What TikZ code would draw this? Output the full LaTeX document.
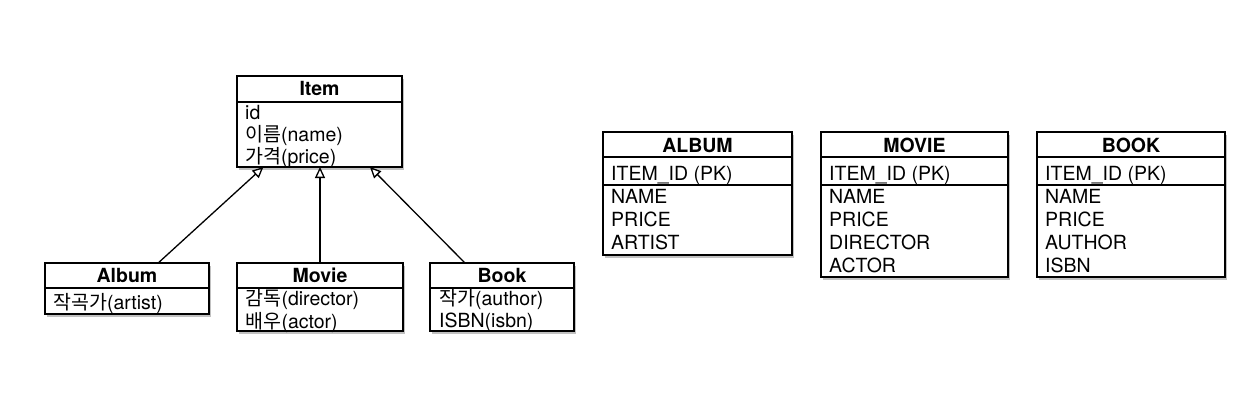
\documentclass[tikz,border=0pt]{standalone}
\usepackage{fontspec}
\setmainfont{TeX Gyre Heros}
\newfontfamily\kr{Noto Sans CJK KR}
\usetikzlibrary{arrows.meta,shadows,calc}
\begin{document}
\fontsize{19.5}{23}\selectfont
\begin{tikzpicture}[x=1pt,y=-1pt,
  box/.style={draw, line width=1.5pt, fill=white, inner sep=0pt, outer sep=0pt, anchor=north west,
    drop shadow={shadow xshift=2pt, shadow yshift=-2.5pt, opacity=0.35, fill=black!70}},
  hd/.style={font=\bfseries, inner sep=0pt, anchor=base},
  fl/.style={inner sep=0pt, anchor=base west},
  sepline/.style={line width=1.5pt},
  inh/.style={line width=1.3pt, -{Triangle[open,length=11pt,width=10pt,line width=1.3pt]}}]
\useasboundingbox (0,0) rectangle (1255,405);

% ---------- UML classes ----------
\node[box, minimum width=165pt, minimum height=91pt] (item) at (237,76) {};
\draw[sepline] ([yshift=-26pt]item.north west) -- ([yshift=-26pt]item.north east);
\node[hd] (itemh) at (319.5,95) {Item};
\node[fl] (itemf1) at (245,119.5) {id};
\node[fl] (itemf2) at (245,141.5) {{\kr 이름}(name)};
\node[fl] (itemf3) at (245,163) {{\kr 가격}(price)};

\node[box, minimum width=164pt, minimum height=51pt] (album) at (45,263) {};
\draw[sepline] ([yshift=-25pt]album.north west) -- ([yshift=-25pt]album.north east);
\node[hd] (albumh) at (127,282) {Album};
\node[fl] (albumf1) at (53,309.5) {{\kr 작곡가}(artist)};

\node[box, minimum width=166pt, minimum height=68pt] (movie) at (237,263) {};
\draw[sepline] ([yshift=-25pt]movie.north west) -- ([yshift=-25pt]movie.north east);
\node[hd] (movieh) at (320,282) {Movie};
\node[fl] (movief1) at (245.5,305) {{\kr 감독}(director)};
\node[fl] (movief2) at (245.5,328) {{\kr 배우}(actor)};

\node[box, minimum width=144pt, minimum height=68pt] (book) at (430,263) {};
\draw[sepline] ([yshift=-25pt]book.north west) -- ([yshift=-25pt]book.north east);
\node[hd] (bookh) at (502,282) {Book};
\node[fl] (bookf1) at (439,305) {{\kr 작가}(author)};
\node[fl] (bookf2) at (439,327.5) {ISBN(isbn)};

% inheritance connectors
\draw[inh] ($(album.north west)!0.69!(album.north east)$) -- ($(item.south west)!0.16!(item.south east)$);
\draw[inh] (movie.north) -- (movie.north |- item.south);
\draw[inh] ($(book.north west)!0.243!(book.north east)$) -- ($(item.south west)!0.806!(item.south east)$);

% ---------- tables ----------
\node[box, minimum width=189pt, minimum height=123pt] (talbum) at (603,132) {};
\draw[sepline] ([yshift=-25pt]talbum.north west) -- ([yshift=-25pt]talbum.north east);
\draw[sepline] ([yshift=-53pt]talbum.north west) -- ([yshift=-53pt]talbum.north east);
\node[hd] (talbumh) at (697.5,152) {ALBUM};
\node[fl] (talbumk) at (611,180) {ITEM\_ID (PK)};
\node[fl] (talbumf1) at (611,203) {NAME};
\node[fl] (talbumf2) at (611,226) {PRICE};
\node[fl] (talbumf3) at (611,249) {ARTIST};

\node[box, minimum width=187pt, minimum height=145pt] (tmovie) at (821,132) {};
\draw[sepline] ([yshift=-25pt]tmovie.north west) -- ([yshift=-25pt]tmovie.north east);
\draw[sepline] ([yshift=-53pt]tmovie.north west) -- ([yshift=-53pt]tmovie.north east);
\node[hd] (tmovieh) at (914.5,152) {MOVIE};
\node[fl] (tmoviek) at (829,180) {ITEM\_ID (PK)};
\node[fl] (tmovief1) at (829,203) {NAME};
\node[fl] (tmovief2) at (829,226) {PRICE};
\node[fl] (tmovief3) at (829,249) {DIRECTOR};
\node[fl] (tmovief4) at (829,272) {ACTOR};

\node[box, minimum width=188pt, minimum height=145pt] (tbook) at (1037,132) {};
\draw[sepline] ([yshift=-25pt]tbook.north west) -- ([yshift=-25pt]tbook.north east);
\draw[sepline] ([yshift=-53pt]tbook.north west) -- ([yshift=-53pt]tbook.north east);
\node[hd] (tbookh) at (1131,152) {BOOK};
\node[fl] (tbookk) at (1045,180) {ITEM\_ID (PK)};
\node[fl] (tbookf1) at (1045,203) {NAME};
\node[fl] (tbookf2) at (1045,226) {PRICE};
\node[fl] (tbookf3) at (1045,249) {AUTHOR};
\node[fl] (tbookf4) at (1045,272) {ISBN};
\end{tikzpicture}
\end{document}
